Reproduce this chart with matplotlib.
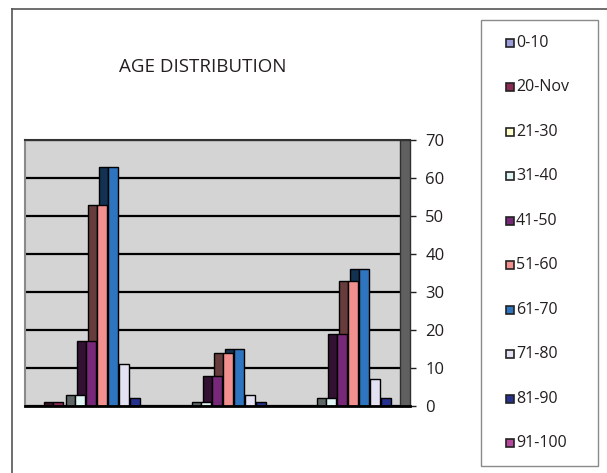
import matplotlib
matplotlib.use("Agg")
import matplotlib.pyplot as plt
import numpy as np
from matplotlib.colors import to_rgb
from matplotlib.patches import Rectangle
from matplotlib.lines import Line2D

plt.rcParams["font.family"] = ["Open Sans", "DejaVu Sans"]

# ---- data -------------------------------------------------------------
CATEGORIES = ["Group 1", "Group 2", "Group 3"]
SERIES = ["0-10", "20-Nov", "21-30", "31-40", "41-50",
          "51-60", "61-70", "71-80", "81-90", "91-100"]
AGE_0_10 = [0, 0, 0]
AGE_11_20 = [1, 0, 0]
AGE_21_30 = [0, 0, 0]
AGE_31_40 = [3, 1, 2]
AGE_41_50 = [17, 8, 19]
AGE_51_60 = [53, 14, 33]
AGE_61_70 = [63, 15, 36]
AGE_71_80 = [11, 3, 7]
AGE_81_90 = [2, 1, 2]
AGE_91_100 = [0, 0, 0]
VALUES = [AGE_0_10, AGE_11_20, AGE_21_30, AGE_31_40, AGE_41_50,
          AGE_51_60, AGE_61_70, AGE_71_80, AGE_81_90, AGE_91_100]
Y_TICKS = [0, 10, 20, 30, 40, 50, 60, 70]

COLORS = ["#9c9cd8", "#8b2a55", "#ffffcc", "#e0f4f4", "#782878",
          "#f29090", "#2e74be", "#e4e2f2", "#27318e", "#b5489d"]

# ---- layout (pixels on a 607x473 canvas) -----------------------------
W, H = 607, 473
fig = plt.figure(figsize=(W / 100, H / 100), dpi=100)


def fx(px):
    return px / W


def fy(py):
    return 1 - py / H


ax_l, ax_r, ax_t, ax_b = 25, 410, 140, 406
ax = fig.add_axes([fx(ax_l), fy(ax_b), fx(ax_r - ax_l), fy(ax_t) - fy(ax_b)])
ax.set_facecolor("#d4d4d4")

group_px = 125.5
x0 = np.arange(len(CATEGORIES))
slot = 11 / group_px
front_w = 10 / group_px
side_w = 9 / group_px

# draw right-to-left so each front face hides the next bar's side face
for j in reversed(range(len(SERIES))):
    vals = VALUES[j]
    xc = x0 + (j - 4.5) * slot
    dark = tuple(c * 0.42 for c in to_rgb(COLORS[j]))
    ax.bar(xc - front_w / 2 - side_w / 2, vals, width=side_w, color=dark,
           edgecolor="black", linewidth=1.0, zorder=99 - 2 * j)
    ax.bar(xc, vals, width=front_w, color=COLORS[j],
           edgecolor="black", linewidth=1.0, zorder=100 - 2 * j)

ax.set_xlim((ax_l - 96.5) / group_px, (ax_r - 96.5) / group_px)
ax.set_ylim(0, 70)
ax.set_xticks([])
ax.set_yticks(Y_TICKS)
ax.yaxis.tick_right()
ax.tick_params(axis="y", length=4, width=1, pad=7, labelsize=12,
               colors="#231f20", direction="out")
ax.yaxis.grid(True, color="black", linewidth=1.6)
ax.set_axisbelow(True)

# right "wall" of the 3D box
wall_w = 10 / (ax_r - ax_l)
ax.add_patch(Rectangle((1 - wall_w, 0), wall_w, 1, transform=ax.transAxes,
                       facecolor="#606060", edgecolor="#303030",
                       linewidth=1.0, zorder=150, clip_on=False))

ax.spines["top"].set_color("#333333")
ax.spines["top"].set_linewidth(1.5)
ax.spines["left"].set_color("#8a8a8a")
ax.spines["left"].set_linewidth(1.5)
ax.spines["bottom"].set_color("black")
ax.spines["bottom"].set_linewidth(2)
ax.spines["bottom"].set_zorder(200)
ax.spines["right"].set_visible(False)

# title
fig.text(fx(203), fy(67), "AGE DISTRIBUTION", ha="center", va="center",
         fontsize=13.5, color="#231f20")

# outer chart frame (cropped at right / bottom)
fig.add_artist(Line2D([fx(12), fx(12)], [fy(9), 0], color="#555555", lw=1.2))
fig.add_artist(Line2D([fx(12), 1], [fy(9), fy(9)], color="#555555", lw=1.2))

# legend
fig.add_artist(Rectangle((fx(481), fy(466)), fx(598 - 481), fy(20) - fy(466),
                         transform=fig.transFigure, facecolor="white",
                         edgecolor="#8a8a8a", linewidth=1.0))
for i, (lab, col) in enumerate(zip(SERIES, COLORS)):
    cy = 42.7 + i * 44.5
    fig.add_artist(Rectangle((fx(506), fy(cy + 4)), fx(8), fy(cy - 4) - fy(cy + 4),
                             transform=fig.transFigure, facecolor=col,
                             edgecolor="#222222", linewidth=1.2))
    fig.text(fx(516), fy(cy), lab, ha="left", va="center",
             fontsize=11.5, color="#231f20")

fig.savefig("out.png", dpi=100)
